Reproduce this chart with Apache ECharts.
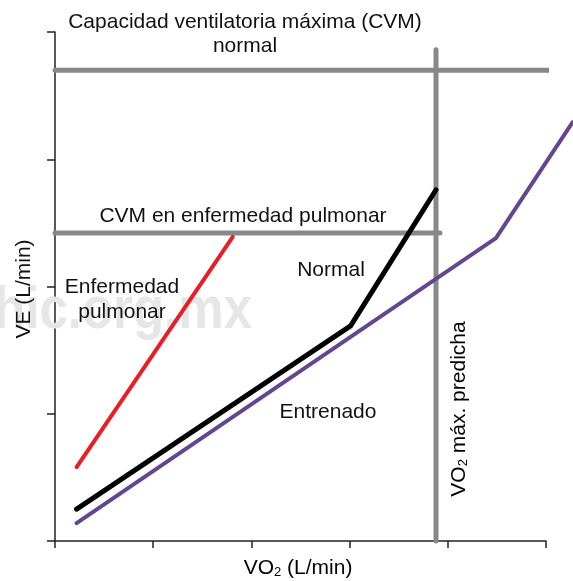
<!DOCTYPE html>
<html>
<head>
<meta charset="utf-8">
<script src="https://cdn.jsdelivr.net/npm/echarts@6/dist/echarts.min.js"></script>
<style>
  html, body { margin: 0; padding: 0; background: #fff; }
  #chart { width: 573px; height: 581px; }
</style>
</head>
<body>
<div id="chart"></div>
<script>
// VO2 (L/min) on x, VE (L/min) on y, in axis units
const xTicks = [0, 1, 2, 3, 4, 5]
const yTicks = [0, 1, 2, 3, 4]

const enfermedadX = [0.22, 1.81]
const enfermedadY = [0.58, 2.39]
const normalX = [0.22, 3.01, 3.88]
const normalY = [0.25, 1.69, 2.76]
const entrenadoX = [0.22, 4.49, 5.27]
const entrenadoY = [0.14, 2.38, 3.29]

// reference lines
const cvmNormalX = [0, 5.03]
const cvmNormalY = [3.7, 3.7]
const cvmPulmonarX = [0, 3.92]
const cvmPulmonarY = [2.42, 2.42]
const vo2MaxX = [3.88, 3.88]
const vo2MaxY = [0, 3.86]

const zip = (xs, ys) => xs.map((x, i) => [x, ys[i]])

const font = 'Liberation Sans, Arial, sans-serif'
const txt = (text, x, y, extra) => Object.assign({
  type: 'text', x: x, y: y, z: 100,
  style: { text: text, fill: '#111', font: '21px ' + font, align: 'center', verticalAlign: 'middle' }
}, extra || {})

const subRich = {
  a: { fontSize: 21, fontFamily: font, color: '#111', lineHeight: 24, verticalAlign: 'bottom' },
  s: { fontSize: 13, fontFamily: font, color: '#111', lineHeight: 9, verticalAlign: 'bottom' }
}

const chart = echarts.init(document.getElementById('chart'))

const lineSeries = (data, color, width) => ({
  type: 'line',
  data: data,
  symbol: 'none',
  clip: false,
  silent: true,
  lineStyle: { color: color, width: width, cap: 'round', join: 'round' }
})

chart.setOption({
  animation: false,
  grid: { left: 55, right: 27, top: 32, bottom: 40 },
  xAxis: {
    type: 'value',
    min: xTicks[0],
    max: xTicks[xTicks.length - 1],
    interval: 1,
    axisLine: { lineStyle: { color: '#222', width: 1.5 } },
    axisTick: { length: 7, lineStyle: { color: '#222', width: 1.5 } },
    axisLabel: { show: false },
    splitLine: { show: false }
  },
  yAxis: {
    type: 'value',
    min: yTicks[0],
    max: yTicks[yTicks.length - 1],
    interval: 1,
    axisLine: { show: true, lineStyle: { color: '#222', width: 1.5 } },
    axisTick: { show: true, length: 8, lineStyle: { color: '#222', width: 1.5 } },
    axisLabel: { show: false },
    splitLine: { show: false }
  },
  series: [
    lineSeries(zip(cvmNormalX, cvmNormalY), '#888888', 5),
    lineSeries(zip(cvmPulmonarX, cvmPulmonarY), '#888888', 5),
    lineSeries(zip(vo2MaxX, vo2MaxY), '#888888', 5),
    lineSeries(zip(enfermedadX, enfermedadY), '#ec1c24', 4),
    lineSeries(zip(normalX, normalY), '#000000', 5)
  ],
  graphic: [
    // watermark
    {
      type: 'text', x: 252, y: 311, z: 1, scaleX: 0.85,
      style: { text: 'hic.org.mx', fill: '#e6e6e9', font: 'bold 60px ' + font, align: 'right', verticalAlign: 'middle' }
    },
    txt('Capacidad ventilatoria máxima (CVM)', 245, 22),
    txt('normal', 245, 46),
    txt('CVM en enfermedad pulmonar', 243, 216),
    txt('Enfermedad', 122, 287),
    txt('pulmonar', 122, 312),
    txt('Normal', 331, 270),
    txt('Entrenado', 328, 412),
    {
      type: 'text', x: 458, y: 409, z: 100, rotation: Math.PI / 2,
      style: { text: '{a|VO}{s|2}{a| máx. predicha}', rich: subRich, align: 'center', verticalAlign: 'middle' }
    },
    {
      type: 'text', x: 298, y: 567, z: 100,
      style: { text: '{a|VO}{s|2}{a| (L/min)}', rich: subRich, align: 'center', verticalAlign: 'middle' }
    },
    {
      type: 'text', x: 24, y: 289, z: 100, rotation: Math.PI / 2,
      style: { text: 'VE (L/min)', fill: '#111', font: '21px ' + font, align: 'center', verticalAlign: 'middle' }
    }
  ]
})

// the trained line runs past the end of the x axis, so it is placed with the
// axis scales and drawn as a polyline that is not clipped to the grid
const entrenadoPx = zip(entrenadoX, entrenadoY).map(p => chart.convertToPixel({ gridIndex: 0 }, p))
chart.setOption({
  graphic: [{
    id: 'entrenado',
    type: 'polyline',
    z: 50,
    shape: { points: entrenadoPx },
    style: { stroke: '#65458f', lineWidth: 4, lineCap: 'round', lineJoin: 'round', fill: null }
  }]
})
</script>
</body>
</html>
